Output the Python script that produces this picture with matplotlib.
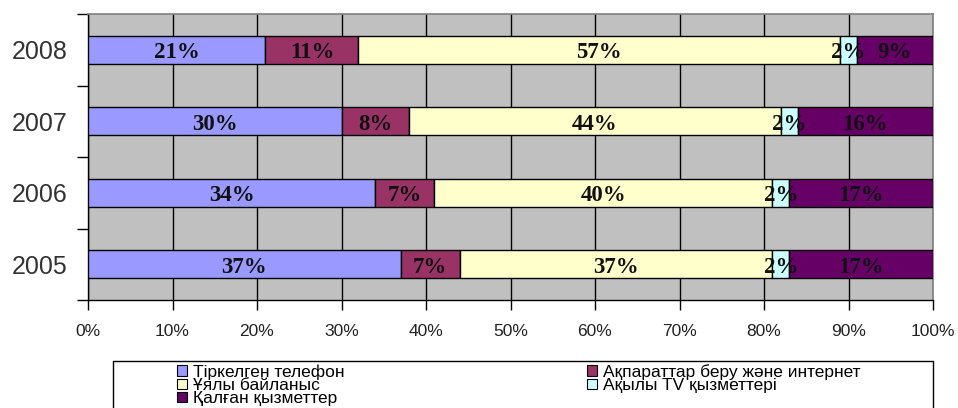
import matplotlib
matplotlib.use("Agg")
import matplotlib.pyplot as plt
import numpy as np
from matplotlib.patches import Patch, Rectangle

# data (shares in %)
years = ["2005", "2006", "2007", "2008"]
series_names = ["Тіркелген телефон", "Ақпараттар беру және интернет",
                "Ұялы байланыс", "Ақылы TV қызметтері", "Қалған қызметтер"]
fixed_phone = [37, 34, 30, 21]
internet = [7, 7, 8, 11]
mobile = [37, 40, 44, 57]
paid_tv = [2, 2, 2, 2]
other = [17, 17, 16, 9]
colors = ["#9999FF", "#993366", "#FFFFCC", "#CCFFFF", "#660066"]

plt.rcParams["font.family"] = ["Liberation Sans", "DejaVu Sans"]

fig = plt.figure(figsize=(9.58, 4.08), dpi=100)
ax = fig.add_axes([88 / 958, 1 - 300 / 408, 845 / 958, 286 / 408])
ax.set_facecolor("#C0C0C0")

y = np.arange(len(years))
left = np.zeros(len(years))
for vals, col in zip([fixed_phone, internet, mobile, paid_tv, other], colors):
    vals = np.array(vals, dtype=float)
    ax.barh(y, vals, left=left, height=0.39, color=col, edgecolor="black",
            linewidth=1, zorder=3)
    for yi, l, v in zip(y, left, vals):
        ax.text(l + v / 2, yi - 0.04, "%d%%" % v, ha="center", va="center",
                fontsize=16.5, fontweight="bold", family="Liberation Serif",
                color="#111111", zorder=4)
    left += vals

ax.set_xlim(0, 100)
ax.set_ylim(-0.5, len(years) - 0.5)

# vertical gridlines
ax.set_xticks(np.arange(0, 101, 10))
ax.set_xticklabels(["%d%%" % v for v in range(0, 101, 10)], fontsize=12.5,
                   color="#222222")
ax.xaxis.grid(True, color="black", linewidth=1, zorder=1)
ax.set_axisbelow(True)
ax.tick_params(axis="x", length=7, width=1, direction="out", pad=10)

ax.set_yticks(y)
ax.set_yticklabels(years, fontsize=18, color="#333333")
ax.set_yticks(np.arange(-0.5, len(years), 1), minor=True)
ax.tick_params(axis="y", which="major", length=0, pad=15)
ax.tick_params(axis="y", which="minor", length=8, width=1, direction="out")

for s in ["left", "bottom"]:
    ax.spines[s].set_color("black")
    ax.spines[s].set_linewidth(1)
for s in ["top", "right"]:
    ax.spines[s].set_color("#808080")
    ax.spines[s].set_linewidth(1.2)

# legend frame, cut off by the bottom of the figure
fig.patches.append(Rectangle((113 / 958, -0.05), 820 / 958, 0.05 + (408 - 361) / 408,
                             transform=fig.transFigure, facecolor="white",
                             edgecolor="black", linewidth=1))

order = [0, 2, 4, 1, 3]
handles = [Patch(facecolor=colors[i], edgecolor="black", linewidth=0.8) for i in order]
labels = [series_names[i] for i in order]
fig.legend(handles, labels, ncol=2, loc="upper left",
           bbox_to_anchor=(177 / 958, 1 - 364 / 408), frameon=False,
           fontsize=12.5, handlelength=0.55, handleheight=0.55, handletextpad=0.35,
           labelspacing=-0.1, columnspacing=14.0, borderpad=0, borderaxespad=0)

fig.savefig("out.png", dpi=100)
